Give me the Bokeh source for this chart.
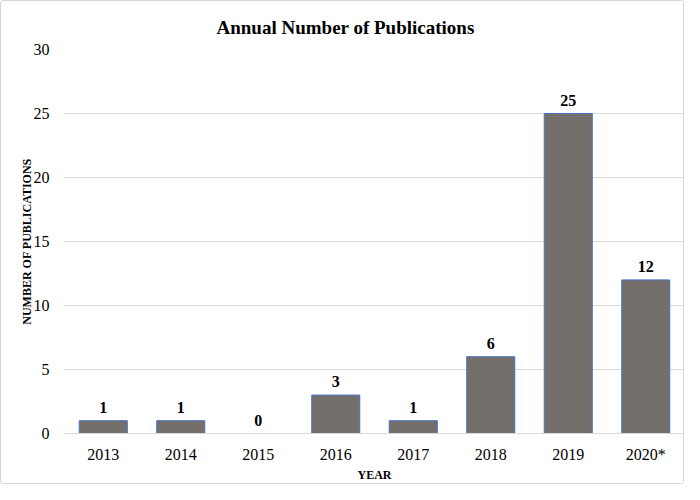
from bokeh.plotting import figure
from bokeh.models import ColumnDataSource, Title
from bokeh.embed import file_html
from bokeh.resources import INLINE
from bokeh.core.properties import value

years = ["2013", "2014", "2015", "2016", "2017", "2018", "2019", "2020*"]
counts = [1, 1, 0, 3, 1, 6, 25, 12]
labels = [str(c) for c in counts]
y_ticks = [0, 5, 10, 15, 20, 25, 30]

src = ColumnDataSource(dict(x=years, top=counts, label=labels))

SERIF = "Liberation Serif"

p = figure(x_range=years, y_range=(0, 30), width=684, height=484,
           output_backend="svg", toolbar_location=None,
           min_border_left=63, min_border_right=1, min_border_top=48, min_border_bottom=52)
p.styles = {"border": "1px solid #d6d6d6", "border-radius": "3px"}

p.title = Title(text="Annual Number of Publications", align="left", offset=152,
                standoff=24,
                text_font=SERIF, text_font_size="19px", text_font_style="bold",
                text_color="#000000")

p.vbar(x="x", top="top", width=0.62, source=src, fill_color="#756f6c",
       line_color="#4472c4", line_width=1)

p.text(x="x", y="top", text="label", source=src, text_align="center",
       text_baseline="bottom", y_offset=-8, text_font=value(SERIF),
       text_font_size="16px", text_font_style="bold", text_color="#000000")

p.outline_line_color = None
p.xgrid.grid_line_color = None
p.ygrid.grid_line_color = "#d9d9d9"
p.ygrid.grid_line_width = 1
p.yaxis.ticker = y_ticks

p.yaxis.axis_line_color = None
p.yaxis.major_tick_line_color = None
p.yaxis.minor_tick_line_color = None
p.yaxis.major_label_text_font = SERIF
p.yaxis.major_label_text_font_size = "16px"
p.yaxis.major_label_text_color = "#000000"
p.yaxis.major_label_standoff = 9
p.yaxis.axis_label = "NUMBER OF PUBLICATIONS"
p.yaxis.axis_label_text_font = SERIF
p.yaxis.axis_label_text_font_size = "12px"
p.yaxis.axis_label_text_font_style = "bold"
p.yaxis.axis_label_text_color = "#000000"
p.yaxis.axis_label_standoff = -3

p.xaxis.axis_line_color = "#d9d9d9"
p.xaxis.major_tick_line_color = None
p.xaxis.minor_tick_line_color = None
p.xaxis.major_label_text_font = SERIF
p.xaxis.major_label_text_font_size = "16px"
p.xaxis.major_label_text_color = "#000000"
p.xaxis.major_label_standoff = 6
p.xaxis.axis_label = "YEAR"
p.xaxis.axis_label_text_font = SERIF
p.xaxis.axis_label_text_font_size = "12px"
p.xaxis.axis_label_text_font_style = "bold"
p.xaxis.axis_label_text_color = "#000000"
p.xaxis.axis_label_standoff = 2

p.x_range.range_padding = 0

open("out.html", "w").write(file_html(p, INLINE))
